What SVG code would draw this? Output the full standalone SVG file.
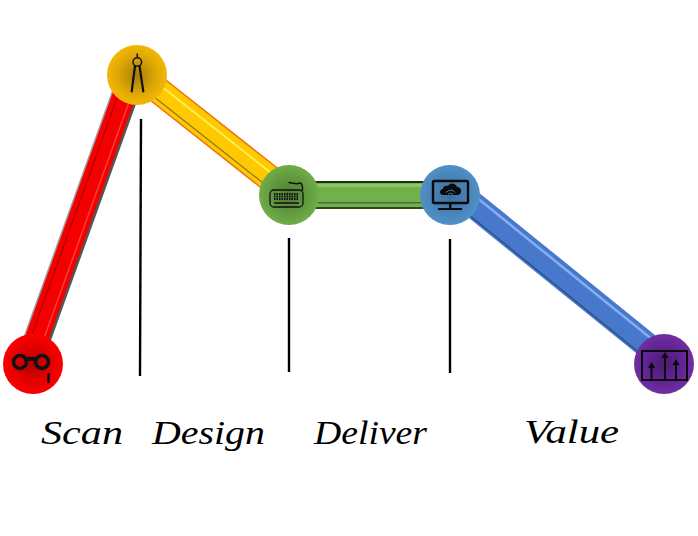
<svg xmlns="http://www.w3.org/2000/svg" width="698" height="536" viewBox="0 0 698 536">
<style>
.lbl{font-family:"Liberation Serif",serif;font-style:italic;font-size:34px;fill:#000}
.tick{stroke:#000;stroke-width:2.4;fill:none}
.ic{fill:none;stroke:#111;stroke-linecap:round;stroke-linejoin:round}
.fk{fill:#0a0a0a}
</style>
<defs>
<radialGradient id="gr"><stop offset="0" stop-color="#b00000"/><stop offset="0.6" stop-color="#e40000"/><stop offset="1" stop-color="#fb0000"/></radialGradient>
<radialGradient id="gy"><stop offset="0" stop-color="#a57c0c"/><stop offset="0.65" stop-color="#e0a806"/><stop offset="1" stop-color="#f2b705"/></radialGradient>
<radialGradient id="gg"><stop offset="0" stop-color="#4c7c33"/><stop offset="0.7" stop-color="#649e41"/><stop offset="1" stop-color="#70ad47"/></radialGradient>
<radialGradient id="gb"><stop offset="0" stop-color="#3c6f9c"/><stop offset="0.7" stop-color="#4a86bb"/><stop offset="1" stop-color="#5090c8"/></radialGradient>
<radialGradient id="gp"><stop offset="0" stop-color="#4b1a70"/><stop offset="0.7" stop-color="#65259a"/><stop offset="1" stop-color="#7030a0"/></radialGradient>
</defs>
<g id="connectors">
<g id="bar-red">
<line x1="27.500" y1="364" x2="131.500" y2="75" stroke="#9a9a9a" stroke-width="26"/>
<line x1="29" y1="364.500" x2="133" y2="75.500" stroke="#555" stroke-width="25"/>
<line x1="27.500" y1="364" x2="131.500" y2="75" stroke="#f50000" stroke-width="23"/>
<line x1="34" y1="366" x2="138" y2="77" stroke="#ff3a3a" stroke-width="1.500"/>
<line x1="22" y1="362" x2="126" y2="73" stroke="#a00000" stroke-width="1"/>
</g>
<g id="bar-yellow">
<line x1="137" y1="73.500" x2="289" y2="193.500" stroke="#e8740c" stroke-width="27"/>
<line x1="137" y1="73.500" x2="289" y2="193.500" stroke="#ffc800" stroke-width="24"/>
<line x1="140" y1="69.500" x2="292" y2="189.500" stroke="#fff04a" stroke-width="2"/>
<line x1="132" y1="79.500" x2="284" y2="199.500" stroke="#8a7426" stroke-width="1.200"/>
</g>
<g id="bar-green">
<rect x="289" y="181" width="161" height="28" fill="#71b04a"/>
<rect x="289" y="181" width="161" height="2" fill="#1f2e12"/>
<rect x="289" y="184" width="161" height="3" fill="#8cc668"/>
<rect x="289" y="202" width="161" height="1.500" fill="#4a6d35"/>
<rect x="289" y="207" width="161" height="2" fill="#2d4a1c"/>
</g>
<g id="bar-blue">
<line x1="450" y1="186" x2="664" y2="359" stroke="#4778cc" stroke-width="26"/>
<line x1="455" y1="180" x2="669" y2="353" stroke="#86aef0" stroke-width="2.500"/>
<line x1="443" y1="194" x2="657" y2="367" stroke="#2c4f80" stroke-width="1.400"/>
</g>
</g>
<line class="tick" x1="141" y1="119" x2="140" y2="376"/>
<line class="tick" x1="289" y1="238" x2="289" y2="372"/>
<line class="tick" x1="450" y1="239" x2="450" y2="373"/>
<g id="node-scan">
<circle cx="33" cy="364" r="30" fill="url(#gr)"/>
<g class="ic" stroke-width="3.500"><circle cx="20" cy="362" r="6.500"/><circle cx="42" cy="362" r="6.500"/><path d="M26 359h10" stroke-width="4"/><path d="M48.500 374v8" stroke-width="2.500"/></g>
</g>
<g id="node-design">
<circle cx="137" cy="75" r="30" fill="url(#gy)"/>
<g class="ic" stroke-width="1.500"><circle cx="137.300" cy="62" r="4.300"/><path d="M137.300 54v3"/><path d="M135 66L131.700 91.500M139.500 66L143.300 91.500" stroke-width="2.200"/></g>
</g>
<g id="node-deliver">
<circle cx="289" cy="195" r="30" fill="url(#gg)"/>
<g class="ic" stroke-width="1.300"><rect x="270" y="190" width="33" height="17" rx="4"/><path d="M289 182.500c4 1 8 2 11 .5c2 0 2.500 3 2.500 7" stroke-width="1.500"/><path d="M274 194h25M274 196.500h25M274 199h25" stroke-dasharray="1.500 1" stroke-linecap="butt" stroke-width="1.800"/><path d="M274.500 203h24"/></g>
</g>
<g id="node-value-start">
<circle cx="450" cy="195" r="30" fill="url(#gb)"/>
<rect x="433" y="181" width="35" height="22" rx="1.500" fill="none" stroke="#0a0a0a" stroke-width="2.400"/>
<path class="fk" d="M449 203h2.500v5h10.500v2h-24v-2h11z"/>
<path class="fk" d="M443 195c-4 0-4-6 0-6c0-3 3-4 5-3c2-4 8-3 9 1c5 0 6 8 0 8z"/>
<path d="M446 192.500c3-3 7-3 9 0M448 194.500c1.500-1.500 3.500-1.500 5 0" fill="none" stroke="#4a86bb" stroke-width="1"/>
</g>
<g id="node-value">
<circle cx="664" cy="364" r="30" fill="url(#gp)"/>
<rect x="642" y="351" width="45" height="29" fill="none" stroke="#0a0a0a" stroke-width="2"/>
<path class="fk" d="M650.500 380v-12h-2.700l3.700-6l3.700 6h-2.700v12zM664 380v-22h-2.700l3.700-6l3.700 6h-2.700v22zM675 380v-15h-2.700l3.700-6l3.700 6h-2.700v15z"/>
</g>
<text class="lbl" x="41" y="444" textLength="82" lengthAdjust="spacingAndGlyphs">Scan</text>
<text class="lbl" x="152" y="444" textLength="113" lengthAdjust="spacingAndGlyphs">Design</text>
<text class="lbl" x="314" y="444" textLength="113" lengthAdjust="spacingAndGlyphs">Deliver</text>
<text class="lbl" x="524" y="443" textLength="95" lengthAdjust="spacingAndGlyphs">Value</text>
</svg>
